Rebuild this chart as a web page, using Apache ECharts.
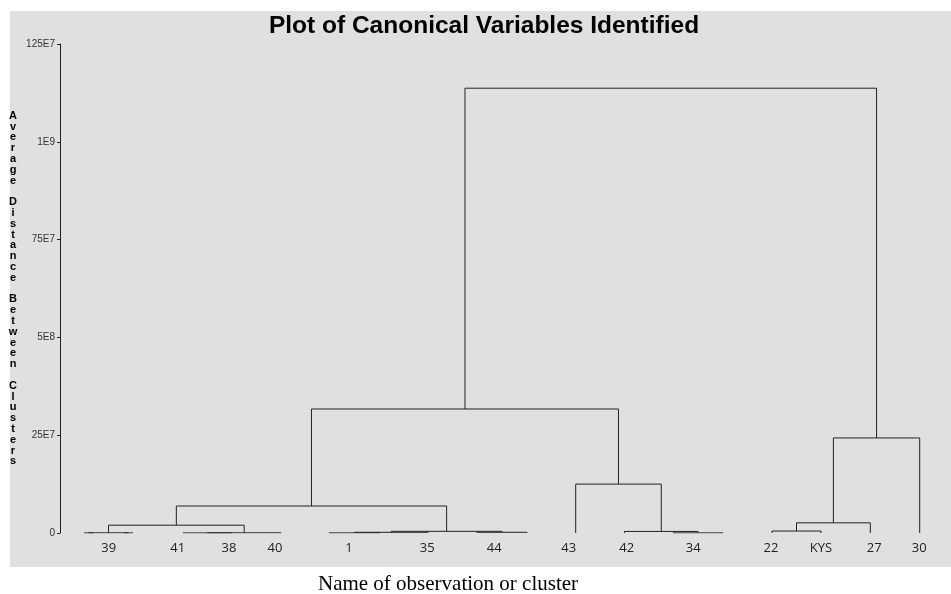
<!DOCTYPE html>
<html>
<head>
<meta charset="utf-8">
<script src="https://cdn.jsdelivr.net/npm/echarts@6/dist/echarts.min.js"></script>
<style>
html,body{margin:0;padding:0;background:#fff;}
#chart{width:951px;height:594px;}
</style>
</head>
<body>
<div id="chart"></div>
<script>
// ---- data ----
const titleText = 'Plot of Canonical Variables Identified';
const xAxisTitle = 'Name of observation or cluster';
const yAxisTitle = 'Average Distance Between Clusters';

// positions of the observations along the (hidden) observation axis, left to right
const leafX = [24, 33, 64, 73, 123, 171.7, 221, 269, 320, 368, 417, 467, 515.7, 564.5, 613, 663, 712, 761, 810.3, 859.7];

// linkage table: ids 0..19 are leaves, merge k gets id 20+k
const mergeLeft   = [0, 2, 20, 4, 23, 22, 7, 26, 10, 27, 25, 14, 13, 12, 30, 16, 35, 36, 34];
const mergeRight  = [1, 3, 21, 5, 6, 24, 8, 9, 11, 28, 29, 15, 31, 32, 33, 17, 18, 19, 37];
const mergeHeight = [2e5, 2e5, 5e5, 2e5, 5e5, 2.0e7, 3e5, 1.8e6, 1.8e6, 4.3e6, 6.9e7, 3e5, 4.0e6, 1.25e8, 3.17e8, 5.0e6, 2.6e7, 2.43e8, 1.137e9];

// observation labels and where they sit on the observation axis
const obsLabels = ['39', '41', '38', '40', '1', '35', '44', '43', '42', '34', '22', 'KYS', '27', '30'];
const obsLabelPos = [48.7, 117.7, 169, 215, 289, 367.3, 434.3, 508.7, 566.7, 633.3, 711, 761, 814.3, 859.3];

// y axis ticks
const yTickValues = [0, 2.5e8, 5e8, 7.5e8, 1e9, 1.25e9];
const yTickLabels = ['0', '25E7', '5E8', '75E7', '1E9', '125E7'];

// ---- build dendrogram segments ----
const nodeX = leafX.slice();
const nodeH = leafX.map(() => 0);
const segs = [];
for (let k = 0; k < mergeLeft.length; k++) {
  const l = mergeLeft[k], r = mergeRight[k], h = mergeHeight[k];
  const xl = nodeX[l], xr = nodeX[r];
  segs.push({ coords: [[xl, nodeH[l]], [xl, h], [xr, h], [xr, nodeH[r]]] });
  nodeX.push((xl + xr) / 2);
  nodeH.push(h);
}

const chart = echarts.init(document.getElementById('chart'), null, { renderer: 'canvas' });
chart.setOption({
  backgroundColor: '#ffffff',
  animation: false,
  title: [{
    text: titleText,
    left: 479,
    top: 9,
    textAlign: 'center',
    textStyle: { fontFamily: 'Liberation Sans', fontWeight: 'bold', fontSize: 24.5, color: '#000' }
  }, {
    text: xAxisTitle,
    left: 443,
    top: 569,
    textAlign: 'center',
    textStyle: { fontFamily: 'Liberation Serif', fontWeight: 'normal', fontSize: 21, color: '#000' }
  }],
  graphic: [{
    type: 'rect', left: 10, top: 11, z: -10, silent: true,
    shape: { width: 941, height: 556 },
    style: { fill: '#e0e0e0' }
  }],
  grid: { left: 60, right: 0, top: 44, bottom: 61, outerBoundsMode: 'none', containLabel: false },
  xAxis: {
    type: 'value', min: 0, max: 891,
    axisLine: { show: false },
    axisTick: { show: false },
    splitLine: { show: false },
    axisLabel: {
      customValues: obsLabelPos,
      margin: 9,
      fontFamily: 'Open Sans', fontSize: 13, color: '#222',
      formatter: function (v) {
        const i = obsLabelPos.indexOf(v);
        return i >= 0 ? obsLabels[i] : '';
      }
    }
  },
  yAxis: {
    type: 'value', min: 0, max: 1.25e9, interval: 2.5e8,
    name: yAxisTitle.split('').map(c => c === ' ' ? '' : c).join('\n'),
    nameLocation: 'middle',
    nameRotate: 0,
    nameGap: 47,
    nameTextStyle: { fontFamily: 'Liberation Sans', fontWeight: 'bold', fontSize: 11, lineHeight: 10.8, color: '#000', align: 'center', verticalAlign: 'middle', padding: [0, 0, 6, 0] },
    axisLine: { show: true, lineStyle: { color: '#222', width: 1 } },
    axisTick: { show: true, length: 3, lineStyle: { color: '#222' } },
    splitLine: { show: false },
    axisLabel: {
      margin: 5,
      fontFamily: 'Liberation Sans', fontSize: 10, color: '#333',
      formatter: function (v) {
        const i = yTickValues.indexOf(v);
        return i >= 0 ? yTickLabels[i] : '';
      }
    }
  },
  series: [{
    type: 'lines',
    coordinateSystem: 'cartesian2d',
    polyline: true,
    silent: true,
    lineStyle: { color: '#222', width: 1, opacity: 1 },
    data: segs
  }]
});
</script>
</body>
</html>
